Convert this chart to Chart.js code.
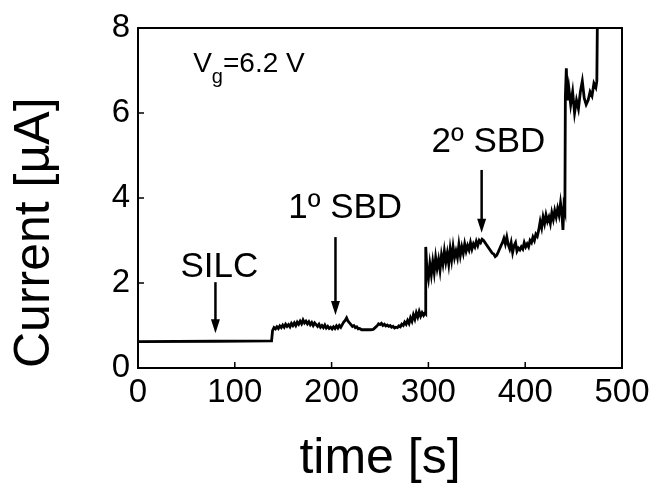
<!DOCTYPE html>
<html>
<head>
<meta charset="utf-8">
<script src="https://cdn.jsdelivr.net/npm/chart.js@4.4.1/dist/chart.umd.min.js"></script>
<style>
  html, body { margin: 0; padding: 0; background: #ffffff; }
  #wrap { width: 659px; height: 491px; position: relative; }
</style>
</head>
<body>
<div id="wrap"><canvas id="c" width="659" height="491"></canvas></div>
<script>
// ---- data ----
const timeS = [
  0, 80, 138,
  139, 140.5, 142, 143.5, 145, 146.5, 148, 149.5, 151, 152.5, 154, 155.5, 157, 158.5, 160, 161.5, 163, 164.5,
  166, 167.5, 169, 170.5, 172, 173.5, 175, 176.5, 178, 179.5, 181, 182.5, 184, 185.5, 187, 188.5, 190, 191.5,
  193, 194.5, 196, 197.5, 199, 200.5, 202, 203.5, 205, 206.5, 208, 209.5, 211, 212.5, 214, 215.5, 217, 218.5,
  220, 221.5, 223, 224.5, 226, 227.5, 229, 231, 234, 237, 240, 243, 245, 247, 248.5, 250, 251.5, 253, 254.5,
  256, 257.5, 259, 260.5, 262, 263.5, 265, 266.5, 268, 269.5, 271, 272.5, 274, 275.5, 277, 278.5, 280, 281.5,
  283, 284.5, 286, 287.5, 289, 290.5, 292, 293.5, 295, 296.5, 297, 297.5, 298.5,
  300, 301.5, 303, 304.5, 306, 307.5, 309, 310.5, 312, 313.5, 315, 316.5, 318, 319.5, 321, 322.5, 324, 325.5,
  327, 328.5, 330, 331.5, 333, 334.5, 336, 337.5, 339, 340.5, 342, 343.5, 345, 346.5, 348, 349.5, 351, 352.5,
  354, 355.5, 357, 358.5, 360, 361.5, 363, 364.5, 366, 367.5, 369, 370.5, 372, 373.5, 375, 376.5, 378, 379.5,
  381, 382.5, 384, 385.5, 387, 388.5, 390, 391.5, 393, 394.5, 396, 397.5, 399, 400.5, 402, 403.5, 405, 406.5,
  408, 409.5, 411, 412.5, 414, 415.5, 417, 418.5, 420, 421.5, 423, 424.5, 426, 427.5, 429, 430.5, 432, 433.5,
  435, 436.5, 438, 439, 440, 441,
  441.5, 442.5, 443.5, 445, 447, 449, 451, 453, 455, 457, 459, 461, 463, 465, 467, 469, 471, 473, 474, 474.5
];
const currentUA = [
  0.62, 0.63, 0.64,
  0.88, 0.95, 0.92, 0.97, 0.93, 0.99, 0.95, 1.01, 0.96, 1.03, 0.98, 1.02, 0.97, 1.05, 1.0, 1.06, 1.0, 1.08,
  1.03, 1.1, 1.04, 1.13, 1.06, 1.1, 1.04, 1.09, 1.02, 1.07, 1.0, 1.06, 1.02, 0.98, 1.03, 0.96, 1.0, 0.95,
  1.01, 0.94, 0.98, 0.93, 0.96, 0.92, 0.97, 0.93, 0.99, 0.94, 1.0, 0.96, 1.02, 1.08, 1.12, 1.18, 1.1, 1.06,
  1.02, 0.98, 1.0, 0.95, 0.97, 0.92, 0.93, 0.9, 0.9, 0.9, 0.9, 0.91, 0.95, 0.99, 1.04, 1.02, 1.05, 1.0, 1.03,
  0.99, 1.01, 0.98, 1.0, 0.96, 0.98, 0.94, 0.96, 0.95, 0.99, 0.97, 1.03, 1.0, 1.08, 1.03, 1.12, 1.05, 1.18,
  1.1, 1.25, 1.15, 1.3, 1.2, 1.33, 1.22, 1.3, 1.24, 1.3, 1.28, 2.85, 2.3,
  2.1, 2.45, 2.2, 2.5, 2.25, 2.6, 2.35, 2.55, 2.3, 2.65, 2.45, 2.75, 2.5, 2.7, 2.45, 2.8, 2.55, 2.85,
  2.6, 2.75, 2.6, 2.9, 2.65, 2.85, 2.7, 2.92, 2.75, 2.88, 2.78, 2.95, 2.8, 2.92, 2.85, 2.98, 2.88, 3.0,
  2.95, 3.03, 3.0, 2.95, 2.9, 2.85, 2.8, 2.75, 2.7, 2.68, 2.62, 2.65, 2.72, 2.8, 2.88, 2.95, 3.05, 2.92,
  3.08, 2.9, 2.8, 2.95, 2.72, 2.88, 2.95, 2.75, 2.82, 2.78, 2.85, 2.8, 2.95, 2.85, 2.92, 2.85, 3.0, 2.95,
  3.08, 3.0, 3.15, 3.1, 3.25, 3.45, 3.3, 3.55, 3.4, 3.6, 3.45, 3.55, 3.4, 3.65, 3.5, 3.7, 3.55, 3.75,
  3.6, 3.88, 3.6, 3.25, 3.8, 3.7,
  6.4, 7.05, 6.3, 6.6, 6.2, 6.5, 6.0, 6.3, 6.1, 6.5, 6.75, 6.35, 6.2, 6.3, 6.5, 6.4, 6.7, 6.6, 6.75, 8.0
];
const xTicks = [0, 100, 200, 300, 400, 500];
const yTicks = [0, 2, 4, 6, 8];
const annotationLabels = ["SILC", "1º SBD", "2º SBD"];
const annotationTimes = [80, 204, 355];       // arrow x position (s)
const annotationTips = [0.82, 1.25, 3.18];    // arrow tip (µA)
const vgLabel = ["V", "g", "=6.2 V"];

// ---- layout / style (not data) ----
const FONT = "'Liberation Sans', Arial, Helvetica, sans-serif";
const annLayout = [
  { textX: 84,  textY: 2.14, tailY: 2.02 },
  { textX: 214, textY: 3.53, tailY: 3.08 },
  { textX: 362, textY: 5.08, tailY: 4.66 }
];

const points = timeS.map((t, i) => ({ x: t, y: currentUA[i] }));

const framePlugin = {
  id: 'frameAndNotes',
  afterDatasetsDraw(chart) {
    const ctx = chart.ctx;
    const a = chart.chartArea;
    const xs = chart.scales.x, ys = chart.scales.y;
    ctx.save();
    ctx.strokeStyle = '#000';
    ctx.lineWidth = 2;
    ctx.strokeRect(a.left, a.top, a.right - a.left, a.bottom - a.top);
    ctx.lineWidth = 1.5;
    xTicks.forEach(v => {
      const px = xs.getPixelForValue(v);
      ctx.beginPath(); ctx.moveTo(px, a.bottom); ctx.lineTo(px, a.bottom - 6); ctx.stroke();
    });
    yTicks.forEach(v => {
      const py = ys.getPixelForValue(v);
      ctx.beginPath(); ctx.moveTo(a.left, py); ctx.lineTo(a.left + 6, py); ctx.stroke();
    });
    ctx.fillStyle = '#000';
    ctx.textAlign = 'center';
    ctx.textBaseline = 'alphabetic';
    ctx.font = '35px ' + FONT;
    annotationLabels.forEach((lab, i) => {
      const L = annLayout[i];
      ctx.fillText(lab, xs.getPixelForValue(L.textX), ys.getPixelForValue(L.textY));
      const ax = xs.getPixelForValue(annotationTimes[i]);
      const y0 = ys.getPixelForValue(L.tailY);
      const y1 = ys.getPixelForValue(annotationTips[i]);
      ctx.lineWidth = 2.5;
      ctx.beginPath(); ctx.moveTo(ax, y0); ctx.lineTo(ax, y1 - 12); ctx.stroke();
      ctx.beginPath();
      ctx.moveTo(ax - 4.5, y1 - 14); ctx.lineTo(ax + 4.5, y1 - 14); ctx.lineTo(ax, y1);
      ctx.closePath(); ctx.fill();
    });
    ctx.textAlign = 'left';
    let vx = xs.getPixelForValue(57);
    const vy = ys.getPixelForValue(6.96);
    ctx.font = '28px ' + FONT;
    ctx.fillText(vgLabel[0], vx, vy);
    vx += ctx.measureText(vgLabel[0]).width;
    ctx.font = '20px ' + FONT;
    ctx.fillText(vgLabel[1], vx, vy + 11);
    vx += ctx.measureText(vgLabel[1]).width;
    ctx.font = '28px ' + FONT;
    ctx.fillText(vgLabel[2], vx, vy);
    ctx.restore();
  }
};

new Chart(document.getElementById('c'), {
  type: 'line',
  data: {
    datasets: [{
      data: points,
      borderColor: '#000',
      borderWidth: 2.8,
      pointRadius: 0,
      tension: 0,
      fill: false
    }]
  },
  options: {
    responsive: false,
    animation: false,
    devicePixelRatio: 1,
    layout: { padding: { left: 0, top: 28, right: 37, bottom: 0 } },
    plugins: { legend: { display: false }, tooltip: { enabled: false } },
    scales: {
      x: {
        type: 'linear',
        min: 0, max: 500,
        afterFit(s) { s.height = 123; },
        afterBuildTicks(s) { s.ticks = xTicks.map(v => ({ value: v })); },
        grid: { display: false, drawTicks: false },
        border: { display: false },
        ticks: { color: '#000', font: { family: FONT, size: 33 }, padding: 5, maxRotation: 0 },
        title: { display: true, text: 'time [s]', color: '#000',
                 font: { family: FONT, size: 50 }, padding: { top: 0, bottom: 2 } }
      },
      y: {
        min: 0, max: 8,
        afterFit(s) { s.width = 138; },
        afterBuildTicks(s) { s.ticks = yTicks.map(v => ({ value: v })); },
        grid: { display: false, drawTicks: false },
        border: { display: false },
        ticks: { color: '#000', font: { family: FONT, size: 33 }, padding: 8 },
        title: { display: true, text: 'Current [µA]', color: '#000', align: 'start',
                 font: { family: FONT, size: 50 }, padding: { top: 5, bottom: 0 } }
      }
    }
  },
  plugins: [framePlugin]
});
</script>
</body>
</html>
